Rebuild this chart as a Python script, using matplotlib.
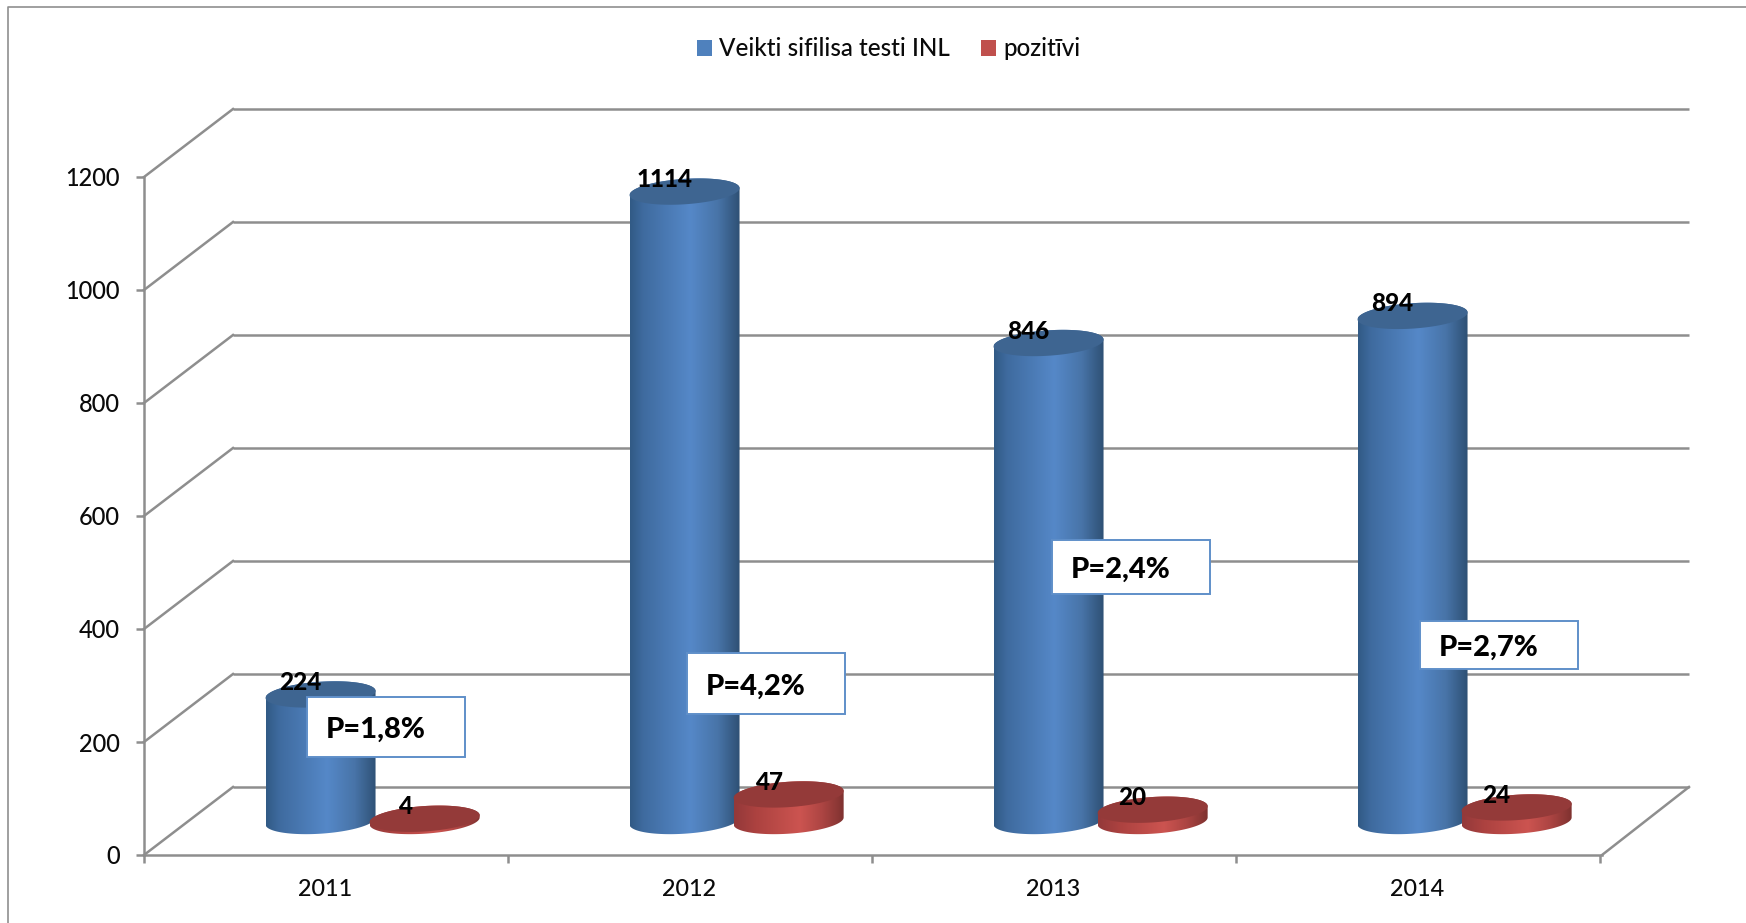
import numpy as np
import matplotlib
matplotlib.use('Agg')
import matplotlib.pyplot as plt
from matplotlib.colors import LinearSegmentedColormap
from matplotlib.patches import Patch, PathPatch, Polygon, Rectangle
from matplotlib.path import Path

plt.rcParams['font.family'] = ['Lato', 'DejaVu Sans']
plt.rcParams['font.weight'] = 'medium'

years = ['2011', '2012', '2013', '2014']
tests = [224, 1114, 846, 894]
positive = [4, 47, 20, 24]
p_labels = ['P=1,8%', 'P=4,2%', 'P=2,4%', 'P=2,7%']
yticks = [0, 200, 400, 600, 800, 1000, 1200]
series_names = ['Veikti sifilisa testi INL', 'pozitīvi']

W, H = 1746, 923
GRID = '#8e8e8e'
TXT = '#0a0a0a'

fig = plt.figure(figsize=(W / 100, H / 100), dpi=100)
# front plane of the 3d box, pixels
left, right, top, bottom = 144, 1600, 177, 855
ax = fig.add_axes([left / W, 1 - bottom / H, (right - left) / W, (bottom - top) / H])
ax.set_facecolor('none')

px_x = (right - left) / 4
px_y = (bottom - top) / 1200
depth_x = 89 / px_x
depth_y = 68 / px_y

# grid on back wall and left wall
for v in yticks:
    ax.plot([depth_x, 4 + depth_x], [v + depth_y, v + depth_y], color=GRID, lw=1.8,
            clip_on=False, zorder=1, solid_capstyle='butt')
    ax.plot([0, depth_x], [v, v + depth_y], color=GRID, lw=1.8, clip_on=False, zorder=1)
# right edge of floor
ax.plot([4 + 2 / px_x, 4 + depth_x], [0, depth_y], color=GRID, lw=1.8, clip_on=False, zorder=1)

ax.set_xlim(0, 4)
ax.set_ylim(0, 1200)
for s in ['top', 'right']:
    ax.spines[s].set_visible(False)
for s in ['left', 'bottom']:
    ax.spines[s].set_color(GRID)
    ax.spines[s].set_linewidth(1.8)
ax.spines['bottom'].set_bounds(0, 4 + 2 / px_x)
ax.set_yticks(yticks)
ax.set_xticks([0, 1, 2, 3, 4])
ax.set_xticklabels([])
ax.set_xticks([0.497, 1.497, 2.497, 3.497], labels=years, minor=True)
ax.tick_params(axis='both', which='major', color=GRID, width=1.8, length=5.5)
ax.tick_params(axis='y', labelsize=17, labelcolor=TXT, pad=12)
ax.tick_params(axis='x', which='minor', length=0, labelsize=16.8, labelcolor=TXT, pad=17)

blue_cm = LinearSegmentedColormap.from_list('b', [(0, '#315a85'), (0.12, '#3f6b9f'), (0.55, '#5588c8'),
                                                  (0.8, '#4874a8'), (1, '#2e5074')])
red_cm = LinearSegmentedColormap.from_list('r', [(0, '#93393a'), (0.2, '#ac4240'), (0.6, '#cc5450'),
                                                 (0.8, '#ad4543'), (1, '#7f3230')])
grad = np.linspace(0, 1, 256).reshape(1, -1)

half_w = 55 / px_x
tilt = 3.5 / px_y
ell_b = 12.7 / px_y
base_y = 34 / px_y


def ellipse(cx, cy, t):
    return cx + half_w * np.cos(t), cy + tilt * np.cos(t) + ell_b * np.sin(t)


def cylinder(cx, value, cmap, top_col):
    t = np.linspace(np.pi, 2 * np.pi, 80)
    bx, by = ellipse(cx, base_y, t)
    t2 = np.linspace(0, np.pi, 80)
    tx, ty = ellipse(cx, base_y + value, t2)
    side = np.column_stack([np.r_[bx, tx], np.r_[by, ty]])
    clip = PathPatch(Path(np.vstack([side, side[0]]), closed=True), transform=ax.transData,
                     facecolor='none', edgecolor='none')
    ax.add_patch(clip)
    clip.set_clip_on(False)
    im = ax.imshow(grad, cmap=cmap, aspect='auto', zorder=3, interpolation='bilinear',
                   extent=[cx - half_w, cx + half_w, 0, base_y + value + 2 * ell_b])
    im.set_clip_path(clip)
    t3 = np.linspace(0, 2 * np.pi, 160)
    ex, ey = ellipse(cx, base_y + value, t3)
    ax.add_patch(Polygon(np.column_stack([ex, ey]), closed=True, facecolor=top_col,
                         edgecolor='none', zorder=3, clip_on=False))


for i in range(len(years)):
    cylinder(i + 0.485, tests[i], blue_cm, '#3e6591')
    cylinder(i + 0.771, positive[i], red_cm, '#943a39')
    ax.set_xlim(0, 4)
    ax.set_ylim(0, 1200)

for i in range(len(years)):
    for cx, val in [(i + 0.485, tests[i]), (i + 0.771, positive[i])]:
        ax.text(cx - 20 / px_x, val + base_y + 12 / px_y, str(val), ha='center', va='center',
                fontsize=17.5, fontweight='black', color='black', zorder=5, clip_on=False)

# text boxes with the percentages, placed on the page as in the original
boxes_x = [307, 687, 1052, 1420]
boxes_y = [697, 653, 540, 621]
boxes_h = [60, 61, 54, 48]
for i in range(len(p_labels)):
    x0, y0, h = boxes_x[i], boxes_y[i], boxes_h[i]
    ax.add_patch(Rectangle((x0 / W, 1 - (y0 + h) / H), 158 / W, h / H, transform=fig.transFigure,
                           facecolor='white', edgecolor='#5f8fc9', lw=1.4, zorder=6, clip_on=False))
    ax.text((x0 + 19) / W, 1 - (y0 + h / 2 + 3) / H, p_labels[i], transform=fig.transFigure,
            fontsize=21, fontweight='black', color='black', ha='left', va='center', zorder=7)

# frame of the chart area (only top and left show)
fig.add_artist(plt.Line2D([8 / W, 8 / W, 1], [0, 1 - 7 / H, 1 - 7 / H], color='#8f8f8f', lw=1.2))

handles = [Patch(facecolor='#4f81bd', edgecolor='none'), Patch(facecolor='#c0504d', edgecolor='none')]
fig.legend(handles, series_names, loc='center', bbox_to_anchor=(889 / W, 1 - 49 / H), ncol=2,
           frameon=False, fontsize=17.4, labelcolor=TXT, handlelength=0.62, handleheight=0.62,
           handletextpad=0.3, columnspacing=1.3, borderpad=0)

plt.savefig('out.png', dpi=100)
